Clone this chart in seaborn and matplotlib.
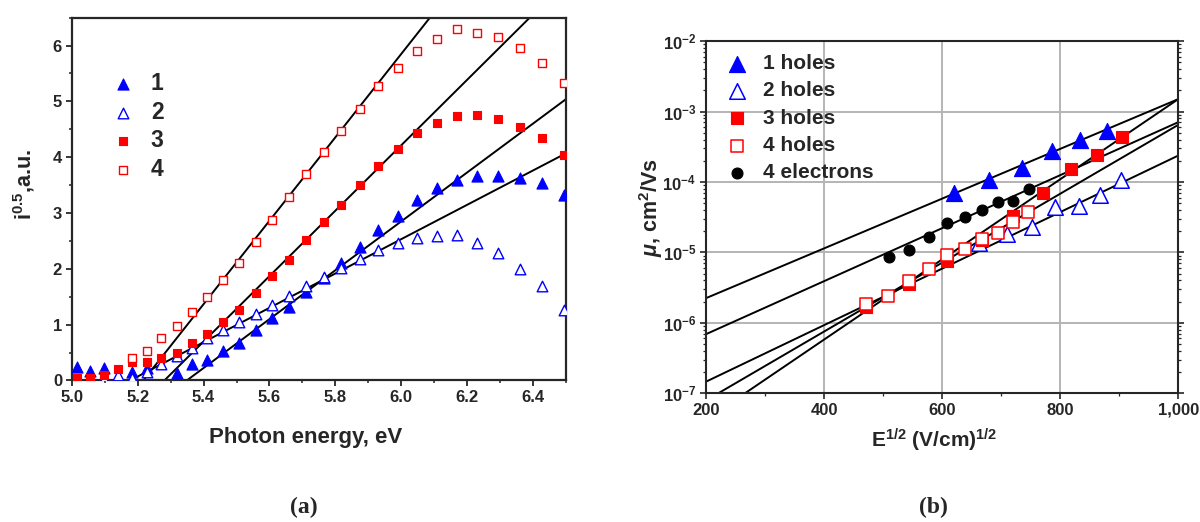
import numpy as np
import matplotlib
matplotlib.use("Agg")
import matplotlib.pyplot as plt
from matplotlib.ticker import MultipleLocator, FuncFormatter, LogLocator, NullFormatter
import seaborn as sns

# (a) photoemission, sqrt of photocurrent vs photon energy
energy = [5.015, 5.056, 5.097, 5.141, 5.184, 5.228, 5.272, 5.318, 5.364, 5.411,
          5.460, 5.509, 5.558, 5.609, 5.660, 5.711, 5.765, 5.818, 5.874, 5.930,
          5.989, 6.049, 6.108, 6.168, 6.231, 6.295, 6.359, 6.426, 6.493]
nan = np.nan
i1 = [0.25, 0.17, 0.23, nan, 0.16, 0.22, nan, 0.14, 0.29, 0.37, 0.53, 0.67, 0.90, 1.12,
      1.32, 1.59, 1.84, 2.10, 2.39, 2.69, 2.95, 3.24, 3.45, 3.59, 3.67, 3.67, 3.63, 3.54, 3.33]
i2 = [nan, nan, 0.02, 0.10, 0.05, 0.16, 0.29, 0.43, 0.59, 0.76, 0.91, 1.04, 1.19, 1.36,
      1.52, 1.69, 1.85, 2.02, 2.18, 2.33, 2.46, 2.56, 2.59, 2.61, 2.47, 2.28, 2.00, 1.69, 1.27]
i3 = [0.04, 0.04, 0.10, 0.21, 0.33, 0.33, 0.40, 0.50, 0.67, 0.83, 1.05, 1.26, 1.57, 1.87,
      2.16, 2.51, 2.83, 3.15, 3.51, 3.85, 4.14, 4.43, 4.62, 4.73, 4.75, 4.69, 4.54, 4.35, 4.04]
i4 = [nan, nan, nan, nan, 0.40, 0.53, 0.76, 0.98, 1.23, 1.49, 1.80, 2.10, 2.48, 2.88,
      3.28, 3.69, 4.10, 4.47, 4.87, 5.27, 5.59, 5.91, 6.11, 6.29, 6.23, 6.16, 5.96, 5.69, 5.33]

# fitted straight lines, (x start, x end) and (y start, y end)
fit1_x, fit1_y = [5.349, 6.5], [0.0, 5.04]
fit2_x, fit2_y = [5.177, 6.5], [0.0, 4.07]
fit3_x, fit3_y = [5.281, 6.390], [0.0, 6.5]
fit4_x, fit4_y = [5.217, 6.087], [0.0, 6.5]

# (b) mobility vs sqrt(field)
field1 = [620.3, 680.2, 735.1, 785.9, 833.9, 879.1]
mu1 = [7.08e-5, 1.05e-4, 1.57e-4, 2.77e-4, 3.96e-4, 5.37e-4]
field2 = [663.2, 709.7, 752.0, 791.5, 831.0, 867.8, 903.4]
mu2 = [1.35e-5, 1.83e-5, 2.28e-5, 4.38e-5, 4.63e-5, 6.56e-5, 1.05e-4]
field3 = [471.2, 544.6, 609.0, 668.3, 720.8, 771.7, 818.1, 862.2, 904.6]
mu3 = [1.70e-6, 3.57e-6, 7.66e-6, 1.51e-5, 3.30e-5, 7.06e-5, 1.53e-4, 2.40e-4, 4.32e-4]
field4 = [471.2, 509.0, 544.6, 578.0, 609.0, 639.0, 668.3, 695.4, 720.8, 746.3]
mu4 = [1.85e-6, 2.41e-6, 3.97e-6, 5.77e-6, 9.2e-6, 1.11e-5, 1.54e-5, 1.88e-5, 2.73e-5, 3.80e-5]
field_e = [510.7, 544.6, 578.0, 609.0, 639.0, 668.3, 695.4, 720.8, 747.5]
mu_e = [8.55e-6, 1.08e-5, 1.68e-5, 2.65e-5, 3.23e-5, 4.02e-5, 5.27e-5, 5.45e-5, 7.91e-5]

fitA_x, fitA_y = [200, 1000], [2.24e-6, 1.50e-3]
fitB_x, fitB_y = [200, 1000], [6.90e-7, 7.06e-4]
fitC_x, fitC_y = [200, 1000], [1.46e-7, 2.37e-4]
fitD_x, fitD_y = [220.9, 1000], [1.0e-7, 6.47e-4]
fitE_x, fitE_y = [266.1, 1000], [1.0e-7, 1.50e-3]

sns.set_theme(style="ticks")
plt.rcParams['font.family'] = ['Liberation Sans', 'DejaVu Sans']
plt.rcParams['font.weight'] = 'bold'
plt.rcParams['mathtext.fontset'] = 'custom'
plt.rcParams['mathtext.rm'] = 'Liberation Sans'
plt.rcParams['mathtext.bf'] = 'Liberation Sans:bold'
plt.rcParams['mathtext.it'] = 'Liberation Sans:italic:bold'
plt.rcParams['mathtext.default'] = 'bf'

fig = plt.figure(figsize=(12, 5.22), dpi=100)
ax1 = fig.add_axes([0.0598, 0.2711, 0.4119, 0.6952])
ax2 = fig.add_axes([0.5883, 0.2466, 0.3936, 0.6747])

BLUE = '#0000ff'
RED = '#ff0000'

# ---------- panel (a) ----------
for fx, fy in [(fit1_x, fit1_y), (fit2_x, fit2_y), (fit3_x, fit3_y), (fit4_x, fit4_y)]:
    sns.lineplot(x=fx, y=fy, color='black', lw=1.4, ax=ax1, legend=False, zorder=1)

sns.scatterplot(x=energy, y=i1, marker='^', s=64, color=BLUE, edgecolor=BLUE, linewidth=0.8, ax=ax1, label='1', zorder=3)
sns.scatterplot(x=energy, y=i2, marker='^', s=58, color='white', edgecolor=BLUE, linewidth=1.0, ax=ax1, label='2', zorder=3)
sns.scatterplot(x=energy, y=i3, marker='s', s=38, color=RED, edgecolor=RED, linewidth=0.8, ax=ax1, label='3', zorder=3)
sns.scatterplot(x=energy, y=i4, marker='s', s=38, color='white', edgecolor=RED, linewidth=1.0, ax=ax1, label='4', zorder=3)

ax1.set_xlim(5.0, 6.5)
ax1.set_ylim(0, 6.5)
ax1.xaxis.set_major_locator(MultipleLocator(0.2))
ax1.xaxis.set_minor_locator(MultipleLocator(0.1))
ax1.yaxis.set_major_locator(MultipleLocator(1))
ax1.yaxis.set_minor_locator(MultipleLocator(0.5))
ax1.xaxis.set_major_formatter(FuncFormatter(lambda v, p: f'{v:.1f}'))
ax1.tick_params(which='major', direction='out', length=4, width=1.3, labelsize=12, pad=3)
ax1.tick_params(which='minor', direction='out', length=2.5, width=1.1)
for sp in ax1.spines.values():
    sp.set_linewidth(1.6)
ax1.set_xlabel('Photon energy, eV', fontsize=16, fontweight='bold')
ax1.set_ylabel('$i^{0.5}$,a.u.', fontsize=15.5, fontweight='bold')
ax1.xaxis.set_label_coords(0.474, -0.128)
ax1.yaxis.set_label_coords(-0.071, 0.54)
ax1.legend(loc='upper left', bbox_to_anchor=(0.081, 0.850), frameon=False,
           borderaxespad=0, borderpad=0, handlelength=1.0, handletextpad=0.7,
           labelspacing=0.25, prop={'size': 16.5, 'weight': 'bold'})

# ---------- panel (b) ----------
ax2.set_yscale('log')
for fx, fy in [(fitA_x, fitA_y), (fitB_x, fitB_y), (fitC_x, fitC_y), (fitD_x, fitD_y), (fitE_x, fitE_y)]:
    sns.lineplot(x=fx, y=fy, color='black', lw=1.4, ax=ax2, legend=False, zorder=2)

sns.scatterplot(x=field1, y=mu1, marker='^', s=135, color=BLUE, edgecolor=BLUE, linewidth=0.8, ax=ax2, label='1 holes', zorder=3)
sns.scatterplot(x=field2, y=mu2, marker='^', s=125, color='white', edgecolor=BLUE, linewidth=1.1, ax=ax2, label='2 holes', zorder=3)
sns.scatterplot(x=field3, y=mu3, marker='s', s=78, color=RED, edgecolor=RED, linewidth=0.8, ax=ax2, label='3 holes', zorder=3)
sns.scatterplot(x=field4, y=mu4, marker='s', s=78, color='white', edgecolor=RED, linewidth=1.1, ax=ax2, label='4 holes', zorder=3)
sns.scatterplot(x=field_e, y=mu_e, marker='o', s=62, color='black', edgecolor='black', linewidth=0.8, ax=ax2, label='4 electrons', zorder=3)

ax2.set_xlim(200, 1000)
ax2.set_ylim(1e-7, 1e-2)
ax2.xaxis.set_major_locator(MultipleLocator(200))
ax2.xaxis.set_minor_locator(MultipleLocator(100))
ax2.xaxis.set_major_formatter(FuncFormatter(lambda v, p: f'{v:,.0f}'))
ax2.yaxis.set_major_locator(LogLocator(base=10, numticks=10))
ax2.yaxis.set_minor_locator(LogLocator(base=10, subs=np.arange(2, 10), numticks=20))
ax2.yaxis.set_minor_formatter(NullFormatter())
ax2.yaxis.set_major_formatter(FuncFormatter(lambda v, p: r'$10^{%d}$' % round(np.log10(v))))
ax2.tick_params(which='major', direction='out', length=4, width=1.2, labelsize=12, pad=3, right=True)
ax2.tick_params(which='minor', direction='out', length=2.5, width=0.9, right=True)
ax2.grid(True, which='major', color='#b4b4b4', lw=1.4, zorder=0)
ax2.set_axisbelow(True)
for sp in ax2.spines.values():
    sp.set_linewidth(1.5)
ax2.set_xlabel('E$^{1/2}$ (V/cm)$^{1/2}$', fontsize=15, fontweight='bold')
ax2.set_ylabel(r'$\mathit{\mu}$, cm$^2$/Vs', fontsize=15.5, fontweight='bold')
ax2.xaxis.set_label_coords(0.483, -0.095)
ax2.yaxis.set_label_coords(-0.086, 0.527)
ax2.legend(loc='upper left', bbox_to_anchor=(0.043, 0.963), frameon=False,
           borderaxespad=0, borderpad=0, handlelength=1.0, handletextpad=0.75,
           labelspacing=0.40, prop={'size': 15, 'weight': 'bold'})

fig.text(304 / 1200, 0.027, '(a)', family='Liberation Serif', fontsize=17, ha='center', va='center')
fig.text(933 / 1200, 0.027, '(b)', family='Liberation Serif', fontsize=17, ha='center', va='center')

fig.savefig('out.png', dpi=100)
